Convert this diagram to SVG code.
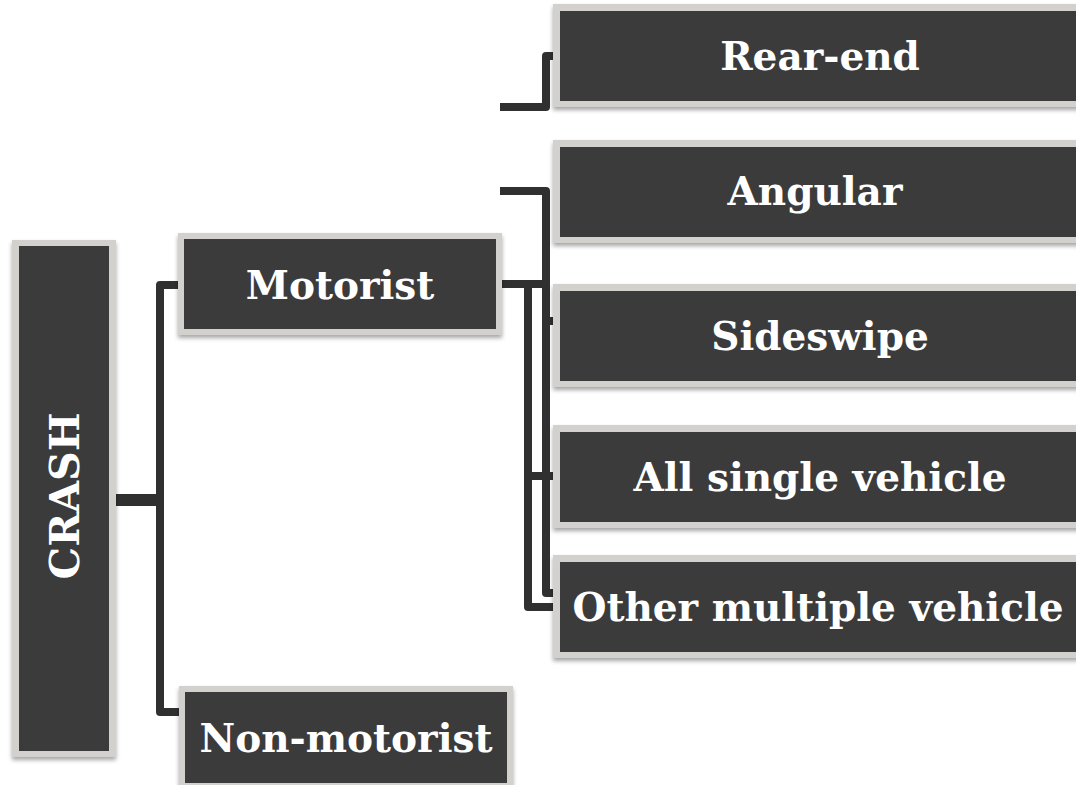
<svg xmlns="http://www.w3.org/2000/svg" width="1076" height="785" viewBox="0 0 1076 785">
<defs>
<filter id="sh" x="-10%" y="-10%" width="120%" height="130%">
<feDropShadow dx="0" dy="3" stdDeviation="2" flood-color="#000" flood-opacity="0.35"/>
</filter>
</defs>
<style>
.o{fill:#d3d1ce;filter:url(#sh)}
.i{fill:#3b3b3b}
.t{fill:#ffffff;font-family:"DejaVu Serif","Liberation Serif",serif;font-weight:bold;font-size:39px;text-anchor:middle}
.c{fill:none;stroke:#303030;stroke-width:8;stroke-linejoin:round}
</style>
<rect width="1076" height="785" fill="#ffffff"/>
<g id="connectors">
<path class="c" d="M116,500 H160" style="stroke-width:12"/>
<path class="c" d="M178,285 H160 V712 H180"/>
<path class="c" d="M500,107 H546 V56 H554"/>
<path class="c" d="M500,191 H546 V593 H554"/>
<path class="c" d="M502,284 H546"/>
<path class="c" d="M528,284 V607 H554"/>
<path class="c" d="M546,321 H554"/>
<path class="c" d="M528,476 H554"/>
</g>
<g id="crash">
<rect class="o" x="12" y="240" width="104" height="517"/>
<rect class="i" x="19" y="246" width="90" height="505"/>
<text class="t" transform="translate(79,496) rotate(-90)" style="font-size:41px">CRASH</text>
</g>
<g id="motorist">
<rect class="o" x="178" y="233" width="324" height="102"/>
<rect class="i" x="184" y="239" width="312" height="90"/>
<text class="t" x="340" y="299">Motorist</text>
</g>
<g id="non-motorist">
<rect class="o" x="179" y="686" width="334" height="103"/>
<rect class="i" x="185" y="692" width="322" height="91"/>
<text class="t" x="346" y="752">Non-motorist</text>
</g>
<g id="rear-end">
<rect class="o" x="553" y="4" width="530" height="103"/>
<rect class="i" x="560" y="11" width="516" height="90"/>
<text class="t" x="820" y="70">Rear-end</text>
</g>
<g id="angular">
<rect class="o" x="553" y="140" width="530" height="103"/>
<rect class="i" x="560" y="147" width="516" height="90"/>
<text class="t" x="815" y="205">Angular</text>
</g>
<g id="sideswipe">
<rect class="o" x="553" y="284" width="530" height="103"/>
<rect class="i" x="560" y="291" width="516" height="90"/>
<text class="t" x="820" y="350">Sideswipe</text>
</g>
<g id="all-single-vehicle">
<rect class="o" x="553" y="425" width="530" height="103"/>
<rect class="i" x="560" y="432" width="516" height="90"/>
<text class="t" x="820" y="491">All single vehicle</text>
</g>
<g id="other-multiple-vehicle">
<rect class="o" x="553" y="555" width="530" height="103"/>
<rect class="i" x="560" y="562" width="516" height="90"/>
<text class="t" x="818" y="621">Other multiple vehicle</text>
</g>
</svg>
